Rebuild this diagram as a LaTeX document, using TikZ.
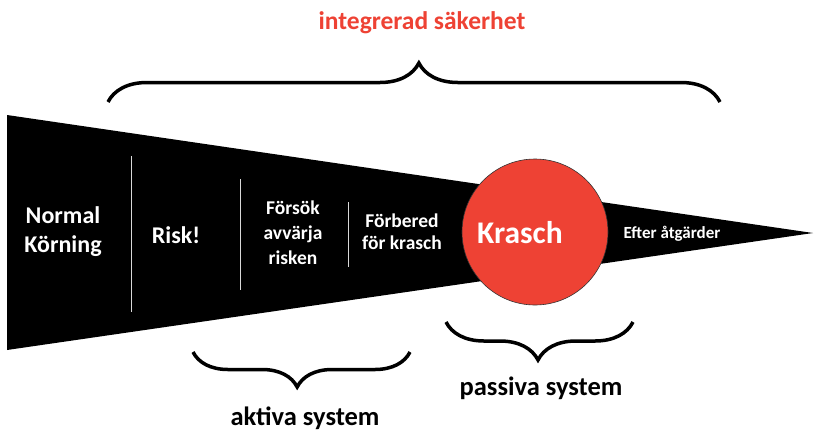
\documentclass[tikz,border=0pt]{standalone}
\usepackage{fontspec}
\setmainfont{Carlito}
\usetikzlibrary{decorations.pathreplacing, positioning}
\definecolor{kraschred}{RGB}{238,66,52}

\begin{document}
\begin{tikzpicture}[x=1pt, y=-1pt,
  stage/.style={text=white, font=\bfseries, align=center, inner sep=0pt},
  sep/.style={draw=white!85!black, line width=0.9pt},
  brc/.style={decorate, line width=3.5pt},
  lbl/.style={font=\fontsize{26.5}{30}\selectfont\bfseries, inner sep=0pt, anchor=base}]
	\useasboundingbox (0,0) rectangle (814,432);
	% wedge
	\fill (7,115) -- (813,233) -- (7,350) -- cycle;
	\draw[sep] (131,156) -- (131,312); \draw[sep] (240,179) -- (240,290); \draw[sep] (348,202) -- (348,267);

	\node[stage, font=\fontsize{24}{29}\selectfont\bfseries] (normal) at (63,232) {Normal\\Körning};
	\node[stage, font=\fontsize{24}{29}\selectfont\bfseries] (risk) at (176,235) {Risk!};
	\node[stage, font=\fontsize{19.5}{25}\selectfont\bfseries] (forsok) at (293,233) {Försök\\avvärja\\risken};
	\node[stage, font=\fontsize{19.5}{22}\selectfont\bfseries] (forbered) at (402,232) {Förbered\\för krasch};

	% krasch
	\node[circle, fill=kraschred, draw=black!80, line width=0.6pt, minimum size=146pt, inner sep=0pt] (krasch) at (535,232) {};
	\node[stage, font=\fontsize{31.5}{36}\selectfont\bfseries] (kraschlbl) at (520,233) {Krasch};
	\node[stage, font=\fontsize{17}{20}\selectfont\bfseries] (efter) at (672,234) {Efter åtgärder};

	% braces
	\coordinate (topL) at (108,102); \coordinate (topR) at (720,102);
	\coordinate (aktL) at (193,352); \coordinate (aktR) at (410,352);
	\coordinate (pasL) at (446,322); \coordinate (pasR) at (633,322);
	\draw[brc, decoration={brace, amplitude=39pt, aspect=0.508}] (topL) -- (topR);
	\draw[brc, decoration={brace, amplitude=35pt, aspect=0.52}] (aktR) -- (aktL);
	\draw[brc, decoration={brace, amplitude=38pt, aspect=0.508}] (pasR) -- (pasL);

	\node[lbl, text=kraschred, font=\fontsize{25.5}{30}\selectfont\bfseries] (integ) at (422,29) {integrerad säkerhet};
	\node[lbl] (aktiva) at (305,425) {aktiva system};
	\node[lbl] (passiva) at (541,395) {passiva system};
\end{tikzpicture}
\end{document}
